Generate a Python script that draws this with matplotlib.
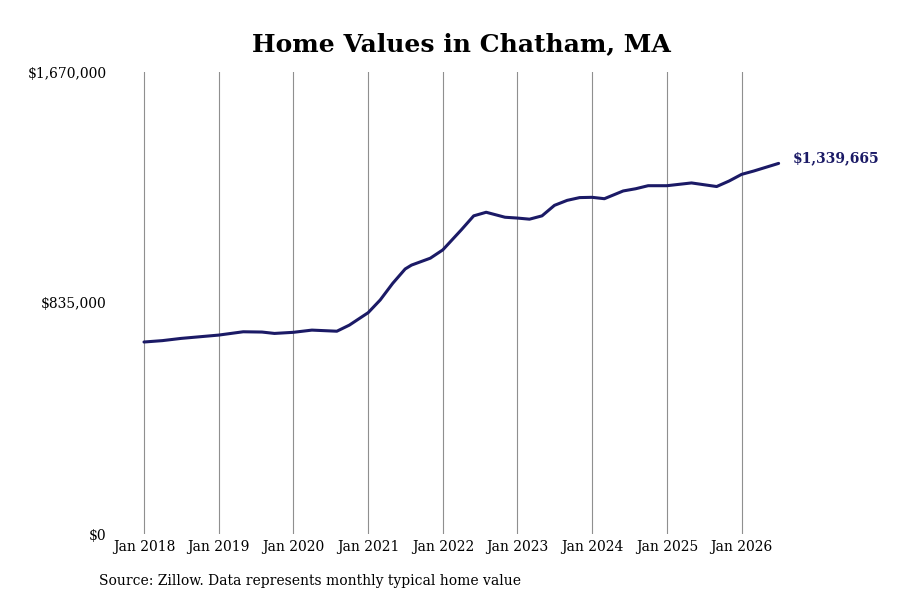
import matplotlib
matplotlib.use("Agg")
import matplotlib.pyplot as plt
import matplotlib.dates as mdates
import matplotlib.ticker as mticker
import pandas as pd

# values (approximate)
dates = ["2018-01", "2018-04", "2018-07", "2019-01", "2019-05", "2019-08",
         "2019-10", "2020-01", "2020-04", "2020-08", "2020-10", "2021-01",
         "2021-03", "2021-05", "2021-07", "2021-08", "2021-11", "2022-01",
         "2022-04", "2022-06", "2022-08", "2022-11", "2023-01", "2023-03",
         "2023-05", "2023-07", "2023-09", "2023-11", "2024-01", "2024-03",
         "2024-06", "2024-08", "2024-10", "2025-01", "2025-05", "2025-09",
         "2025-11", "2026-01", "2026-03", "2026-07"]
values = [694000, 699000, 707000, 719000, 731000, 730000,
          725000, 729000, 737000, 733000, 755000, 800000,
          846000, 906000, 958000, 972000, 997000, 1027000,
          1099000, 1150000, 1163000, 1145000, 1142000, 1138000,
          1150000, 1188000, 1206000, 1216000, 1217000, 1212000,
          1240000, 1248000, 1259000, 1259000, 1269000, 1256000,
          1276000, 1300000, 1312000, 1339665]
year_ticks = list(range(2018, 2027))
y_ticks = [0, 835000, 1670000]

x = pd.to_datetime(dates)
navy = "#1b1a66"
serif = "DejaVu Serif"

fig = plt.figure(figsize=(9, 6), dpi=100)
ax = fig.add_axes([115 / 900, 66 / 600, 675 / 900, 462 / 600])

ax.plot(x, values, color=navy, linewidth=2.2, solid_capstyle="round",
        solid_joinstyle="round")

t0 = mdates.date2num(pd.Timestamp("2018-01-01"))
px_per_day = 74.7 / 365.25
ax.set_xlim(t0 - 29 / px_per_day, t0 + 646 / px_per_day)
ax.set_ylim(0, 1670000)

tick_dates = [pd.Timestamp(f"{yr}-01-01") for yr in year_ticks]
ax.set_xticks(tick_dates)
ax.set_xticklabels([f"Jan {yr}" for yr in year_ticks], fontfamily=serif, fontsize=10)
ax.set_yticks(y_ticks)
ax.yaxis.set_major_formatter(mticker.FuncFormatter(lambda v, p: f"${v:,.0f}"))
for lab in ax.get_yticklabels():
    lab.set_fontfamily(serif)
    lab.set_fontsize(10)

ax.tick_params(axis="both", length=0)
ax.tick_params(axis="y", pad=6)
ax.tick_params(axis="x", pad=4)
for s in ax.spines.values():
    s.set_visible(False)
ax.grid(axis="x", color="#8f8f8f", linewidth=0.8)
ax.grid(axis="y", visible=False)
ax.set_axisbelow(True)

ax.annotate(f"${values[-1]:,.0f}", xy=(x[-1], values[-1]), xytext=(10, 4),
            textcoords="offset points", color=navy, fontweight="bold",
            fontfamily=serif, fontsize=10, va="center", ha="left",
            annotation_clip=False)

fig.text(0.513, 0.927, "Home Values in Chatham, MA", ha="center", va="center",
         fontfamily=serif, fontweight="bold", fontsize=18)
fig.text(99 / 900, 1 - 581 / 600, "Source: Zillow. Data represents monthly typical home value",
         ha="left", va="center", fontfamily=serif, fontsize=10)

fig.savefig("out.png", dpi=100, facecolor="white")
